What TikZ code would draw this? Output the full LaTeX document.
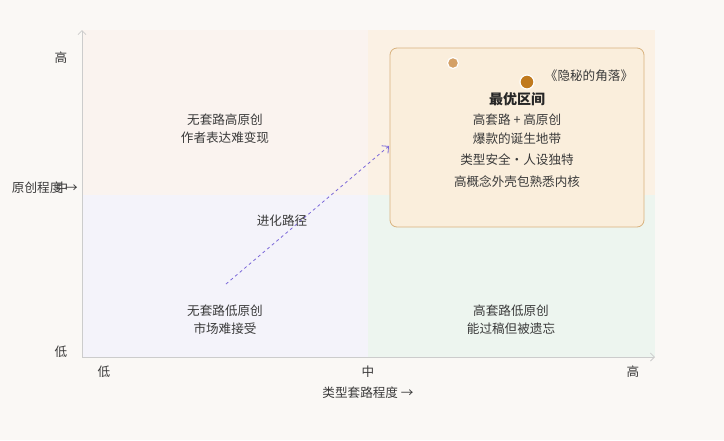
\documentclass[tikz,border=0pt]{standalone}
\usepackage{fontspec}
\setmainfont{Noto Sans CJK SC}
\usepackage{xcolor}
\usetikzlibrary{arrows.meta,positioning}
\definecolor{paper}{HTML}{FAF8F5}
\definecolor{qtl}{HTML}{FAF3EF}
\definecolor{qtr}{HTML}{FBF1E4}
\definecolor{qbl}{HTML}{F4F3FA}
\definecolor{qbr}{HTML}{EDF5EF}
\definecolor{boxfill}{HTML}{FAEEDC}
\definecolor{boxline}{HTML}{D8B27E}
\definecolor{dotlight}{HTML}{D4A066}
\definecolor{dotdark}{HTML}{C07A1E}
\definecolor{pathpurple}{HTML}{7B68D9}
\definecolor{axisgray}{HTML}{CCCCCC}
\definecolor{inkgray}{HTML}{3A3A3A}

\begin{document}
\begin{tikzpicture}[x=1pt, y=-1pt,
  txt/.style={font=\fontsize{12.6}{18}\selectfont, text=inkgray, inner sep=1pt, align=center},
  tick/.style={txt},
  title/.style={font=\fontsize{14}{16}\selectfont\bfseries, text=black!85, inner sep=1pt},
  axis/.style={draw=axisgray, line width=0.8pt, -{Straight Barb[length=4pt]}},
  evo/.style={draw=pathpurple, line width=0.8pt, dashed, -{Straight Barb[length=5pt]}},
  dot/.style={circle, draw=white, line width=1.2pt, inner sep=0pt}
]
  % fondo y cuadrantes
  \fill[paper] (0,0) rectangle (724,440);
  \useasboundingbox (0,0) rectangle (724,440);
  \fill[qtl] (82,30) rectangle (368,195);
  \fill[qtr] (368,30) rectangle (655,195);
  \fill[qbl] (82,195) rectangle (368,357);
  \fill[qbr] (368,195) rectangle (655,357);
  % ejes
  \coordinate (o) at (82,357);
  \coordinate (ytop) at (82,30);
  \coordinate (xend) at (655,357);
  \draw[axis] (o) -- (ytop);
  \draw[axis] (o) -- (xend);
  % zona optima
  \node[draw=boxline, fill=boxfill, line width=0.8pt, rounded corners=7pt,
        minimum width=254pt, minimum height=179pt, inner sep=0pt] (best) at (517,137.5) {};
  \node[dot, fill=dotlight, minimum size=11pt] (d1) at (453,63) {};
  \node[dot, fill=dotdark, minimum size=14pt] (d2) at (527,82) {};
  \node[txt] (work) at (589,76) {《隐秘的角落》};
  \node[title] (bt) at (517,99) {最优区间};
  \node[txt] (b1) at (517,120) {高套路 + 高原创};
  \node[txt] (b2) at (517,139) {爆款的诞生地带};
  \node[txt] (b3) at (517,160) {类型安全·人设独特};
  \node[txt] (b4) at (517,182) {高概念外壳包熟悉内核};
  % cuadrantes
  \node[txt] (tl) at (225,129) {无套路高原创\\作者表达难变现};
  \node[txt] (bl) at (225,320) {无套路低原创\\市场难接受};
  \node[txt] (br) at (511,320) {高套路低原创\\能过稿但被遗忘};
  % camino de evolucion
  \coordinate (evs) at (226,284);
  \coordinate (eve) at (389,146);
  \draw[evo] (evs) -- (eve);
  \node[txt] (evl) at (282,221) {进化路径};
  % etiquetas de ejes
  \node[tick] (yh) at (61,58) {高};
  \node[tick] (ym) at (62,188) {中};
  \node[tick] (yl) at (61,352) {低};
  \node[txt, anchor=east] (ylab) at (79,188) {原创程度 →};
  \node[tick] (xl) at (104,372) {低};
  \node[tick] (xm) at (368,372) {中};
  \node[tick] (xh) at (633,372) {高};
  \node[txt] (xlab) at (368,393) {类型套路程度 →};
\end{tikzpicture}
\end{document}
